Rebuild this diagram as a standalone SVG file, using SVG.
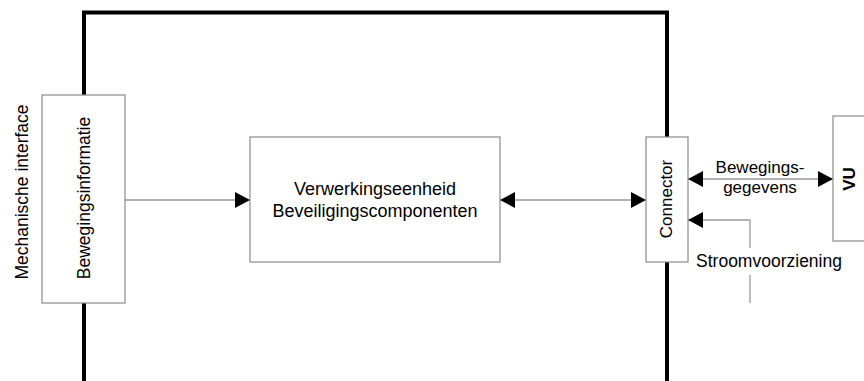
<svg xmlns="http://www.w3.org/2000/svg" width="864" height="381" viewBox="0 0 864 381">
<style>
.frame{fill:none;stroke:#000;stroke-width:4}
.box{fill:#fff;stroke:#8a8a8a;stroke-width:1.2}
.ln{fill:none;stroke:#9a9a9a;stroke-width:1.3}
text{font-family:"Liberation Sans",Arial,sans-serif;fill:#000}
.t{font-size:17.5px;text-anchor:middle}
</style>
<defs>
<marker id="ah" viewBox="0 0 15 16" refX="15" refY="8" markerWidth="15" markerHeight="16" markerUnits="userSpaceOnUse" orient="auto-start-reverse">
<path d="M0,0 L15,8 L0,16 z" fill="#000"/>
</marker>
</defs>
<path class="frame" d="M84,381 V12.5 H667 V381"/>
<g id="connectors">
<path class="ln" d="M125,200 H250" marker-end="url(#ah)"/>
<path class="ln" d="M500,200 H646" marker-start="url(#ah)" marker-end="url(#ah)"/>
<path class="ln" d="M688,179 H833" marker-start="url(#ah)" marker-end="url(#ah)"/>
<path class="ln" d="M750,248 V220 H688" marker-end="url(#ah)"/>
<path class="ln" d="M750,275 V303"/>
<text class="t" x="760" y="173" style="font-size:17px">Bewegings-</text>
<text class="t" x="760" y="193" style="font-size:17px">gegevens</text>
<text class="t" x="769" y="267">Stroomvoorziening</text>
</g>
<g id="mech">
<text class="t" transform="translate(28,192) rotate(-90)">Mechanische interface</text>
</g>
<g id="beweginsinfo">
<rect class="box" x="42" y="95" width="83" height="208"/>
<text class="t" transform="translate(90,198) rotate(-90)">Bewegingsinformatie</text>
</g>
<g id="verwerking">
<rect class="box" x="250" y="137" width="250" height="125"/>
<text class="t" x="375" y="195" style="font-size:18px">Verwerkingseenheid</text>
<text class="t" x="375" y="217" style="font-size:18px">Beveiligingscomponenten</text>
</g>
<g id="connector">
<rect class="box" x="646" y="137" width="42" height="125"/>
<text class="t" transform="translate(672,199) rotate(-90)" style="font-size:17px">Connector</text>
</g>
<g id="vu">
<rect class="box" x="833" y="116" width="40" height="125"/>
<text class="t" transform="translate(855,179) rotate(-90)" style="font-size:17px;font-weight:bold">VU</text>
</g>
</svg>
